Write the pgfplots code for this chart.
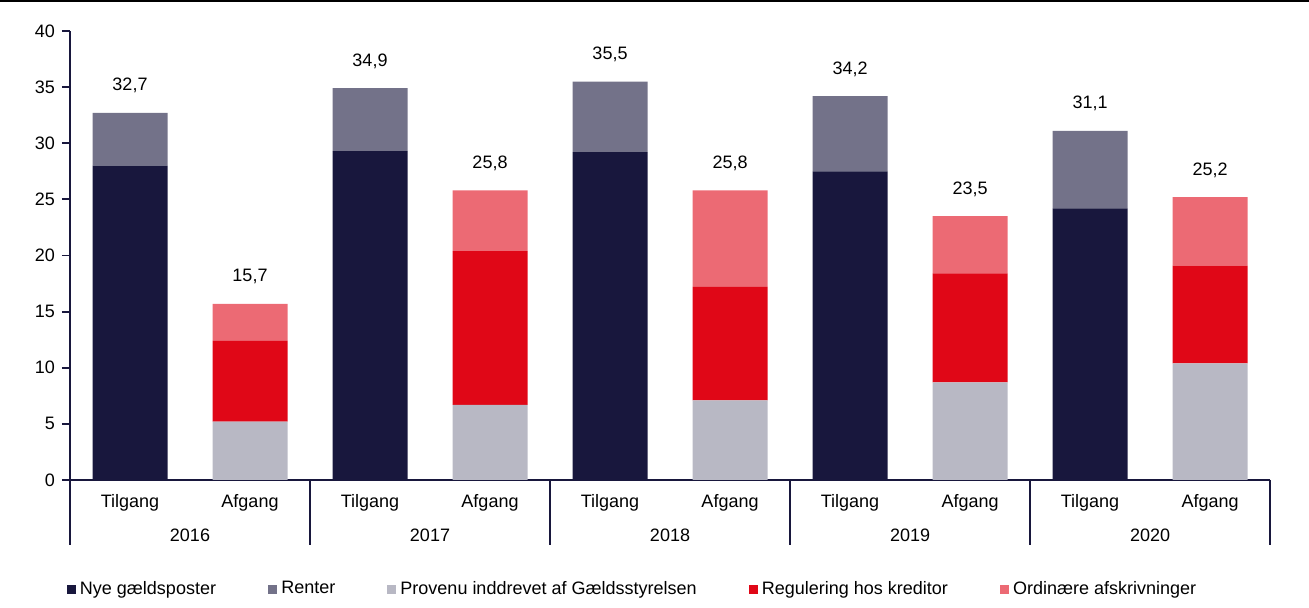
\documentclass[border=0pt]{standalone}
\usepackage{pgfplots}
\usepackage{pgfplotstable}
\pgfplotsset{compat=1.18}
\usepackage{fontspec}
\setmainfont{Liberation Sans}
\definecolor{cNye}{HTML}{18173D}
\definecolor{cRen}{HTML}{737289}
\definecolor{cPro}{HTML}{B8B8C4}
\definecolor{cReg}{HTML}{E00717}
\definecolor{cOrd}{HTML}{EC6A74}
\pgfplotsset{sq/.style={legend image code/.code={\fill[##1] (0pt,-2.3pt) rectangle (4.6pt,2.3pt);}}}
\pgfplotstableread{
x nye renter prov reg ord
0 28.0 4.7 0 0 0
1 0 0 5.2 7.2 3.3
2 29.3 5.6 0 0 0
3 0 0 6.7 13.7 5.4
4 29.2 6.3 0 0 0
5 0 0 7.1 10.1 8.6
6 27.5 6.7 0 0 0
7 0 0 8.7 9.7 5.1
8 24.2 6.9 0 0 0
9 0 0 10.4 8.7 6.1
}\datatable
\begin{document}
\begin{tikzpicture}
\useasboundingbox (0,0) rectangle (654.5pt,304pt);
\draw[black, line width=0.8pt] (0,303.6pt) -- (654.5pt,303.6pt);
\begin{axis}[
  at={(35pt,64pt)}, anchor=south west,
  scale only axis, width=600pt, height=224.5pt,
  ybar stacked, bar width=37.5pt,
  xmin=-0.5, xmax=9.5, ymin=0, ymax=40,
  ytick={0,5,...,40},
  xtick={0,...,9},
  xticklabels={Tilgang,Afgang,Tilgang,Afgang,Tilgang,Afgang,Tilgang,Afgang,Tilgang,Afgang},
  axis lines=left,
  axis line style={-, draw=cNye, line width=0.9pt},
  tick align=outside,
  xtick style={draw=none},
  ytick style={draw=cNye, line width=0.9pt},
  major tick length=4pt,
  /pgf/number format/assume math mode=true,
  tick label style={font=\fontsize{9}{11}\selectfont, text=black},
  xticklabel style={yshift=0.5pt},
  clip=false,
  legend columns=5,
  legend style={draw=none, fill=none, inner sep=0pt,
    at={(axis description cs:-0.003,-0.243)}, anchor=west,
    font=\fontsize{9}{11}\selectfont,
    /tikz/every even column/.append style={column sep=24pt}},
]
\addplot[fill=cNye, draw=none, sq] table[x=x, y=nye] {\datatable};
\addlegendentry{Nye gældsposter}
\addplot[fill=cRen, draw=none, sq] table[x=x, y=renter] {\datatable};
\addlegendentry{Renter}
\addplot[fill=cPro, draw=none, sq] table[x=x, y=prov] {\datatable};
\addlegendentry{Provenu inddrevet af Gældsstyrelsen}
\addplot[fill=cReg, draw=none, sq] table[x=x, y=reg] {\datatable};
\addlegendentry{Regulering hos kreditor}
\addplot[fill=cOrd, draw=none, sq] table[x=x, y=ord] {\datatable};
\addlegendentry{Ordinære afskrivninger}
% totals
\foreach \xx/\yy/\lab in {0/32.7/{32,7},1/15.7/{15,7},2/34.9/{34,9},3/25.8/{25,8},4/35.5/{35,5},5/25.8/{25,8},6/34.2/{34,2},7/23.5/{23,5},8/31.1/{31,1},9/25.2/{25,2}}{
  \edef\temp{\noexpand\node[anchor=base, yshift=11pt, font=\noexpand\fontsize{9}{11}\noexpand\selectfont] at (axis cs:\xx,\yy) {\lab};}
  \temp
}
% group separators and year labels
\foreach \xx in {-0.5,1.5,3.5,5.5,7.5,9.5}{
  \edef\temp{\noexpand\draw[cNye, line width=0.9pt] (axis cs:\xx,0) -- ([yshift=-32.5pt]axis cs:\xx,0);}
  \temp
}
\foreach \xx/\yr in {0.5/2016,2.5/2017,4.5/2018,6.5/2019,8.5/2020}{
  \edef\temp{\noexpand\node[anchor=base, yshift=-31pt, font=\noexpand\fontsize{9}{11}\noexpand\selectfont] at (axis cs:\xx,0) {\yr};}
  \temp
}
\end{axis}
\end{tikzpicture}
\end{document}
